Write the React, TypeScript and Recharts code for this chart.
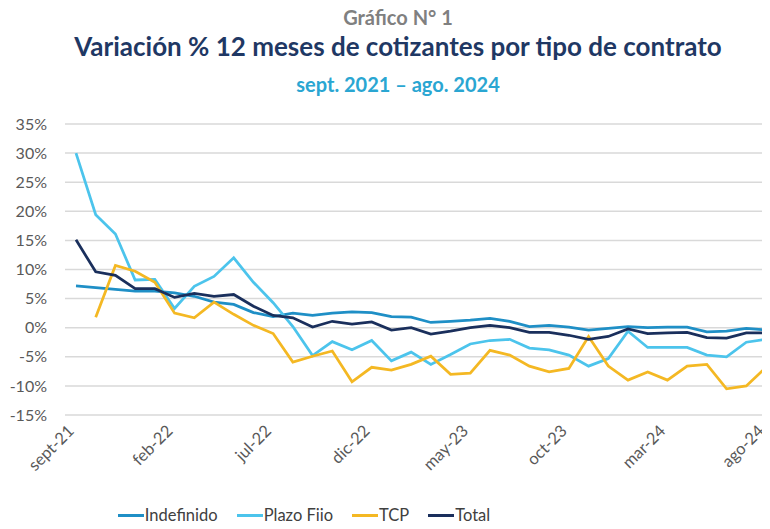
import { LineChart, Line, XAxis, YAxis, CartesianGrid } from "recharts";

const months = [
  "sept-21", "oct-21", "nov-21", "dic-21", "ene-22", "feb-22", "mar-22", "abr-22", "may-22",
  "jun-22", "jul-22", "ago-22", "sept-22", "oct-22", "nov-22", "dic-22", "ene-23", "feb-23",
  "mar-23", "abr-23", "may-23", "jun-23", "jul-23", "ago-23", "sept-23", "oct-23", "nov-23",
  "dic-23", "ene-24", "feb-24", "mar-24", "abr-24", "may-24", "jun-24", "jul-24", "ago-24",
];

const indefinido = [
  7.2, 6.9, 6.6, 6.3, 6.3, 6.0, 5.4, 4.4, 4.0, 2.6, 1.9, 2.5, 2.1, 2.5, 2.7, 2.6, 1.9, 1.8,
  0.9, 1.1, 1.3, 1.6, 1.1, 0.2, 0.4, 0.1, -0.4, -0.1, 0.2, 0.0, 0.1, 0.1, -0.7, -0.6, -0.1, -0.4,
];

const plazoFijo = [
  30.0, 19.4, 16.1, 8.2, 8.3, 3.3, 7.1, 8.8, 12.0, 7.8, 4.3, 0.2, -4.8, -2.4, -3.8, -2.2, -5.7, -4.2,
  -6.3, -4.6, -2.8, -2.2, -2.0, -3.5, -3.8, -4.7, -6.6, -5.3, -0.6, -3.4, -3.4, -3.4, -4.7, -5.0, -2.5, -2.0,
];

const tcp = [
  null, 1.8, 10.7, 9.7, 7.8, 2.5, 1.7, 4.4, 2.3, 0.4, -1.0, -5.9, -4.9, -4.0, -9.3, -6.8, -7.3, -6.3,
  -4.9, -8.0, -7.8, -3.9, -4.7, -6.6, -7.6, -7.0, -1.5, -6.6, -9.0, -7.6, -9.0, -6.6, -6.3, -10.5, -10.0, -6.8,
];

const total = [
  15.1, 9.6, 9.0, 6.7, 6.7, 5.2, 5.9, 5.4, 5.7, 3.7, 2.1, 1.7, 0.1, 1.1, 0.6, 1.0, -0.4, 0.0,
  -1.1, -0.6, 0.0, 0.4, 0.0, -0.8, -0.8, -1.3, -2.0, -1.5, -0.2, -1.0, -0.9, -0.8, -1.7, -1.8, -0.9, -0.9,
];

const xTicks = ["sept-21", "feb-22", "jul-22", "dic-22", "may-23", "oct-23", "mar-24", "ago-24"];
const yTicks = [-15, -10, -5, 0, 5, 10, 15, 20, 25, 30, 35];

const series = [
  { key: "indefinido", name: "Indefinido", color: "#1f8fc6" },
  { key: "plazoFijo", name: "Plazo Fijo", color: "#4cc4ec" },
  { key: "tcp", name: "TCP", color: "#f4b823" },
  { key: "total", name: "Total", color: "#1a2f5c" },
];

const data = months.map((m, i) => ({
  month: m,
  indefinido: indefinido[i],
  plazoFijo: plazoFijo[i],
  tcp: tcp[i],
  total: total[i],
}));

const FONT = "Lato, 'Open Sans', sans-serif";

// rotated month labels, text ends just below the point
function MonthTick(props: any) {
  const { x, y, payload } = props;
  return (
    <g transform={`translate(${x - 5},${y + 11})`}>
      <text
        textAnchor="end"
        transform="rotate(-45)"
        dy="0.35em"
        fill="#595959"
        fontSize={16.5}
        fontFamily={FONT}
      >
        {payload.value}
      </text>
    </g>
  );
}

export default function App() {
  return (
    <div style={{ position: "relative", width: 770, height: 529, margin: -8, background: "#fff", fontFamily: FONT }}>
      <div style={{ position: "absolute", top: 5, left: 0, width: 796, textAlign: "center", fontSize: 20, fontWeight: 700, color: "#808080" }}>
        Gráfico N° 1
      </div>
      <div style={{ position: "absolute", top: 30, left: 0, width: 796, textAlign: "center", fontSize: 26, fontWeight: 700, color: "#1f3864" }}>
        Variación % 12 meses de cotizantes por tipo de contrato
      </div>
      <div style={{ position: "absolute", top: 72, left: 0, width: 796, textAlign: "center", fontSize: 20, fontWeight: 700, color: "#2aa6d2" }}>
        sept. 2021 – ago. 2024
      </div>
      <div style={{ position: "absolute", top: 0, left: 0 }}>
        <LineChart width={770} height={529} data={data} margin={{ top: 124, right: 0, left: 0, bottom: 0 }}>
          <CartesianGrid vertical={false} stroke="#d9d9d9" strokeWidth={1.5} />
          <XAxis
            dataKey="month"
            ticks={xTicks}
            interval={0}
            height={114}
            axisLine={false}
            tickLine={false}
            tickSize={0}
            tick={<MonthTick />}
            padding={{ left: 11, right: 4 }}
          />
          <YAxis
            width={65}
            domain={[-15, 35]}
            ticks={yTicks}
            axisLine={false}
            tickLine={false}
            tickSize={0}
            tickMargin={18}
            tickFormatter={(v: number) => `${v}%`}
            tick={{ fill: "#595959", fontSize: 16, fontFamily: FONT }}
          />
          {series.map((s) => (
            <Line
              key={s.key}
              dataKey={s.key}
              name={s.name}
              stroke={s.color}
              strokeWidth={2.75}
              dot={false}
              isAnimationActive={false}
            />
          ))}
        </LineChart>
      </div>
      <div style={{ position: "absolute", top: 505, left: 0, width: 608, display: "flex", justifyContent: "center", gap: 19, fontSize: 16.5, color: "#404040" }}>
        {series.map((s) => (
          <div key={s.key} style={{ display: "flex", alignItems: "center" }}>
            <span style={{ display: "inline-block", width: 26, height: 3, background: s.color, marginRight: 1 }} />
            <span>{s.name}</span>
          </div>
        ))}
      </div>
    </div>
  );
}
